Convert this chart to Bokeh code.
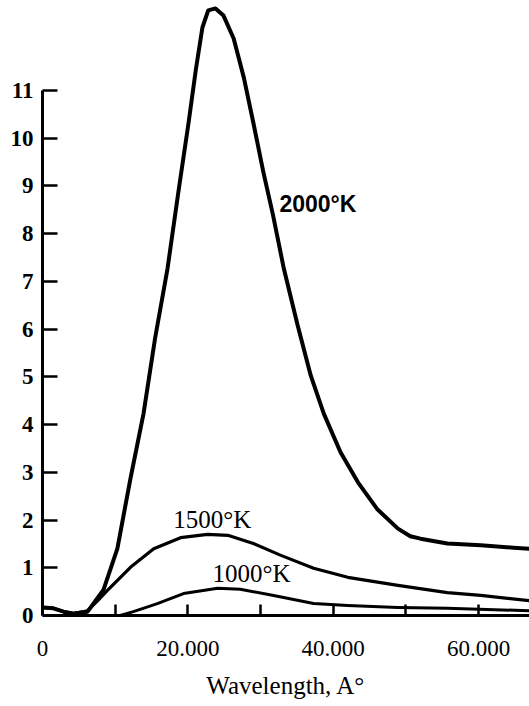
from bokeh.plotting import figure
from bokeh.models import Range1d, FixedTicker, Label
from bokeh.embed import file_html
from bokeh.resources import INLINE

# ---- data (wavelength in Angstrom, relative intensity) ----
wl_2000 = [0, 1500, 2900, 4300, 6200, 7300, 8400, 10300, 12100, 13900, 15500, 17200,
           18700, 20100, 21100, 22000, 22800, 23800, 24900, 26300, 27700, 29000,
           30400, 31700, 33200, 35100, 36900, 38700, 41000, 43400, 46100, 48900,
           50600, 52000, 55700, 60300, 64800, 67000]
i_2000 = [0.17, 0.15, 0.08, 0.04, 0.08, 0.31, 0.54, 1.40, 2.87, 4.23, 5.82, 7.27,
          8.88, 10.33, 11.44, 12.32, 12.68, 12.72, 12.57, 12.09, 11.27, 10.33,
          9.28, 8.40, 7.27, 6.08, 5.03, 4.23, 3.42, 2.79, 2.22, 1.82,
          1.66, 1.61, 1.51, 1.47, 1.42, 1.40]

wl_1500 = [0, 1500, 2900, 4300, 6200, 7600, 8900, 12100, 15300, 19000, 22700, 25500,
           29000, 32800, 37300, 42000, 48900, 55700, 60300, 67000]
i_1500 = [0.17, 0.15, 0.08, 0.04, 0.10, 0.31, 0.52, 1.01, 1.40, 1.63, 1.70, 1.68,
          1.51, 1.26, 0.99, 0.80, 0.63, 0.48, 0.42, 0.31]

wl_1000 = [10700, 12500, 15800, 19400, 24100, 27200, 31800, 37300, 42000, 48900, 55700, 67000]
i_1000 = [0.00, 0.08, 0.25, 0.46, 0.57, 0.55, 0.42, 0.25, 0.21, 0.17, 0.15, 0.10]

curve_names = ["2000°K", "1500°K", "1000°K"]

x_ticks = [0, 10000, 20000, 30000, 40000, 50000, 60000]
x_tick_labels = ["0", "", "20.000", "", "40.000", "", "60.000"]
y_ticks = [0, 1, 2, 3, 4, 5, 6, 7, 8, 9, 10, 11]
y_tick_labels = ["0", "1", "2", "3", "4", "5", "6", "7", "8", "9", "10", "11"]
x_title = "Wavelength, A°"

SERIF = "Liberation Serif"
SANS = "Liberation Sans"

p = figure(width=529, height=704, output_backend="svg", toolbar_location=None,
           x_range=Range1d(0, 67000), y_range=Range1d(0, 12.886),
           min_border_left=42, min_border_right=0, min_border_top=0, min_border_bottom=89)
p.outline_line_color = None
p.xgrid.visible = False
p.ygrid.visible = False
p.background_fill_color = "white"
p.border_fill_color = "white"

# x axis
xa = p.xaxis[0]
xa.ticker = FixedTicker(ticks=x_ticks)
xa.major_label_overrides = {t: l for t, l in zip(x_ticks, x_tick_labels)}
xa.axis_line_width = 3
xa.axis_line_color = "black"
xa.major_tick_line_width = 2.5
xa.major_tick_in = 11
xa.major_tick_out = 0
xa.minor_tick_line_color = None
xa.major_label_text_font = SERIF
xa.major_label_text_font_size = "23px"
xa.major_label_text_color = "black"
xa.major_label_standoff = 25
xa.axis_label = x_title
xa.axis_label_text_font = SERIF
xa.axis_label_text_font_style = "normal"
xa.axis_label_text_font_size = "25px"
xa.axis_label_text_color = "black"
xa.axis_label_standoff = 13

# y axis
ya = p.yaxis[0]
ya.ticker = FixedTicker(ticks=y_ticks)
ya.major_label_overrides = {t: l for t, l in zip(y_ticks, y_tick_labels)}
ya.bounds = (0, 11)
ya.axis_line_width = 3
ya.axis_line_color = "black"
ya.major_tick_line_width = 2.5
ya.major_tick_in = 15
ya.major_tick_out = 0
ya.minor_tick_line_color = None
ya.major_label_text_font = SERIF
ya.major_label_text_font_style = "bold"
ya.major_label_text_font_size = "23px"
ya.major_label_text_color = "black"
ya.major_label_standoff = 9

# curves
p.line(wl_2000, i_2000, line_color="black", line_width=4, line_join="round", line_cap="round")
p.line(wl_1500, i_1500, line_color="black", line_width=3.2, line_join="round", line_cap="round")
p.line(wl_1000, i_1000, line_color="black", line_width=3, line_join="round", line_cap="round")

# curve labels
label_pos = [(32600, 8.62), (18000, 2.02), (23400, 0.87)]
label_fonts = [(SANS, "bold", "23px"), (SERIF, "normal", "25px"), (SERIF, "normal", "25px")]
for name, (lx, ly), (f, st, sz) in zip(curve_names, label_pos, label_fonts):
    p.add_layout(Label(x=lx, y=ly, text=name, text_font=f, text_font_style=st,
                       text_font_size=sz, text_color="black",
                       text_align="left", text_baseline="alphabetic"))

open("out.html", "w").write(file_html(p, INLINE))
